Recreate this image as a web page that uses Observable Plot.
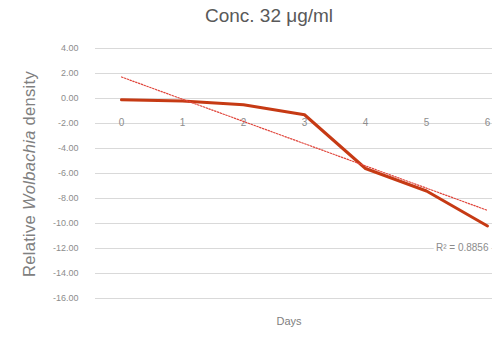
<!DOCTYPE html>
<html>
<head>
<meta charset="utf-8">
<script src="https://cdn.jsdelivr.net/npm/d3@7"></script>
<script src="https://cdn.jsdelivr.net/npm/@observablehq/plot@0.6"></script>
<style>
  html, body { margin: 0; padding: 0; background: white; overflow: hidden; width: 492px; height: 338px; }
  #wrap { position: relative; width: 492px; height: 338px; font-family: "Liberation Sans", Arial, sans-serif; }
  #title { position: absolute; top: 5px; left: 269px; transform: translateX(-50%); white-space: nowrap;
           font-size: 19px; color: #595959; z-index: 2; }
  #chart { position: absolute; top: 36px; left: 0; z-index: 1; }
  #ylab { position: absolute; left: 29px; top: 174px; transform: translate(-50%, -50%) rotate(-90deg);
          white-space: nowrap; font-size: 16.5px; letter-spacing: 0.3px; color: #808080; z-index: 2; }
</style>
</head>
<body>
<div id="wrap">
  <div id="chart"></div>
  <div id="title">Conc. 32 μg/ml</div>
  <div id="ylab">Relative <i>Wolbachia</i> density</div>
</div>
<script>
const days = [0, 1, 2, 3, 4, 5, 6];
const density = [-0.1, -0.2, -0.5, -1.3, -5.6, -7.4, -10.2];
const yTicks = [4, 2, 0, -2, -4, -6, -8, -10, -12, -14, -16];
const xLabel = "Days";
const rSquaredLabel = "R² = 0.8856";

const data = days.map((d, i) => ({day: d, value: density[i]}));

const plot = Plot.plot({
  width: 492,
  height: 302,
  marginLeft: 95,
  marginRight: 0,
  marginTop: 12,
  marginBottom: 40,
  style: {fontFamily: "'Liberation Sans', Arial, sans-serif", background: "white", overflow: "visible"},
  x: {domain: [-0.426, 6.082], axis: null},
  y: {domain: [-16, 4], ticks: yTicks, tickFormat: d => d.toFixed(2), label: null},
  marks: [
    Plot.ruleY(yTicks, {stroke: "#d9d9d9", strokeWidth: 1}),
    Plot.axisY({ticks: yTicks, tickFormat: d => d.toFixed(2), tickSize: 0, tickPadding: 17,
                fontSize: 9, fill: "#8c8c8c", label: null}),
    Plot.text(days, {x: d => d, y: () => 0, text: d => String(d), dy: 24, fontSize: 10, fill: "#8c8c8c"}),
    Plot.text([rSquaredLabel], {frameAnchor: "bottom-right", text: d => d, dx: -4, dy: -48,
                textAnchor: "end", fontSize: 10, fill: "#8c8c8c", stroke: "white", strokeWidth: 6, paintOrder: "stroke"}),
    Plot.lineY(data, {x: "day", y: "value", stroke: "#c63a14", strokeWidth: 3, strokeLinejoin: "round"}),
    Plot.linearRegressionY(data, {x: "day", y: "value", stroke: "#e0463c", strokeWidth: 1.2,
                strokeDasharray: "1.5,1.5", ci: 0}),
    Plot.text([xLabel], {frameAnchor: "bottom", text: d => d, dx: -5, dy: 26, fontSize: 11, fill: "#808080"})
  ]
});
document.getElementById("chart").appendChild(plot);
</script>
</body>
</html>
